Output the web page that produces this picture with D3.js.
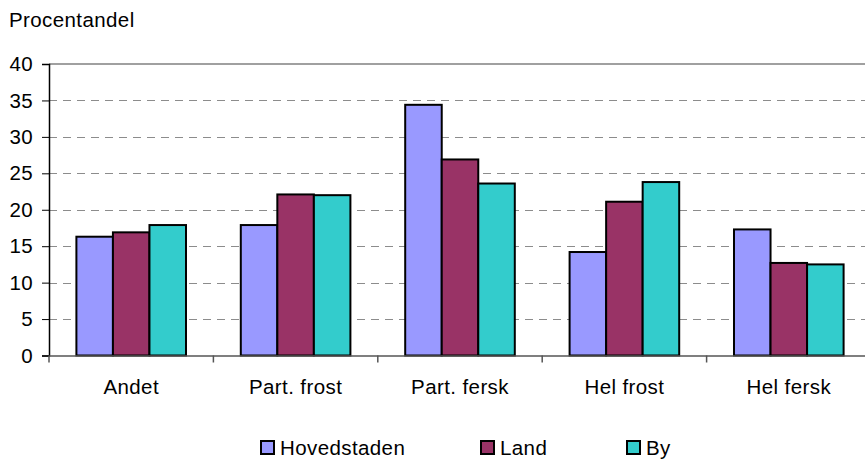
<!DOCTYPE html>
<html>
<head>
<meta charset="utf-8">
<script src="https://cdn.jsdelivr.net/npm/d3@7/dist/d3.min.js"></script>
<style>
  html, body { margin: 0; padding: 0; background: #fff; }
  svg { display: block; font-family: "Liberation Sans", Arial, sans-serif; }
  text { letter-spacing: 0.4px; }
</style>
</head>
<body>
<svg id="chart" width="865" height="459"></svg>
<script>
const categories = ["Andet", "Part. frost", "Part. fersk", "Hel frost", "Hel fersk"];
const seriesNames = ["Hovedstaden", "Land", "By"];
const hovedstaden = [16.3, 17.9, 34.4, 14.2, 17.3];
const land = [16.9, 22.1, 26.9, 21.1, 12.7];
const by = [17.9, 22.0, 23.6, 23.8, 12.5];
const yTicks = [0, 5, 10, 15, 20, 25, 30, 35, 40];
const yLabel = "Procentandel";
const colors = ["#9999FF", "#993366", "#33CCCC"];

(function () {
const seriesValues = [hovedstaden, land, by];
const data = categories.map((c, i) => ({
  category: c,
  values: seriesNames.map((s, j) => ({ series: s, value: seriesValues[j][i] }))
}));

const svg = d3.select("#chart");
const pLeft = 49, pRight = 871, pTop = 64, pBottom = 355.5;
const fontSize = 20.5;

const x0 = d3.scaleBand().domain(categories).range([pLeft, pRight]).padding(0);
const x1 = d3.scaleBand().domain(seriesNames).range([0, x0.bandwidth()]).paddingInner(0).paddingOuter(0.75);
const y = d3.scaleLinear().domain([0, 40]).range([pBottom, pTop]);
const color = d3.scaleOrdinal().domain(seriesNames).range(colors);

// gridlines
svg.append("g").selectAll("line")
  .data(yTicks.filter(t => t > 0 && t < 40))
  .join("line")
  .attr("x1", pLeft).attr("x2", pRight)
  .attr("y1", d => Math.round(y(d)) + 0.5).attr("y2", d => Math.round(y(d)) + 0.5)
  .attr("stroke", "#8c8c8c").attr("stroke-width", 1)
  .attr("stroke-dasharray", "8,6");

// top border
svg.append("line")
  .attr("x1", pLeft).attr("x2", pRight)
  .attr("y1", y(40)).attr("y2", y(40))
  .attr("stroke", "#808080").attr("stroke-width", 1.5);

// bars
const groups = svg.append("g").selectAll("g")
  .data(data).join("g")
  .attr("transform", d => `translate(${x0(d.category)},0)`);
groups.selectAll("rect")
  .data(d => d.values).join("rect")
  .attr("x", d => x1(d.series))
  .attr("y", d => y(d.value))
  .attr("width", x1.bandwidth())
  .attr("height", d => y(0) - y(d.value))
  .attr("fill", d => color(d.series))
  .attr("stroke", "#000").attr("stroke-width", 2);

// y axis
const yAxis = d3.axisLeft(y).tickValues(yTicks).tickSize(7).tickPadding(9).tickFormat(d3.format("d"));
const gy = svg.append("g").attr("transform", `translate(${pLeft},0)`).call(yAxis);
gy.select(".domain").attr("stroke", "#000").attr("stroke-width", 1.5);
gy.selectAll(".tick line").attr("stroke", "#000");
gy.selectAll(".tick text").attr("font-size", fontSize).attr("fill", "#000")
  .attr("font-family", "Liberation Sans, Arial, sans-serif");

// x axis
const xAxis = d3.axisBottom(x0).tickSize(0).tickPadding(24);
const gx = svg.append("g").attr("transform", `translate(0,${pBottom})`).call(xAxis);
gx.select(".domain").attr("stroke", "#555").attr("stroke-width", 1.5);
gx.selectAll(".tick text").attr("font-size", fontSize).attr("fill", "#000")
  .attr("font-family", "Liberation Sans, Arial, sans-serif");
// category separator ticks
const sepPositions = categories.map(c => x0(c));
svg.append("g").selectAll("line")
  .data(sepPositions).join("line")
  .attr("x1", d => d).attr("x2", d => d)
  .attr("y1", pBottom).attr("y2", pBottom + 7)
  .attr("stroke", "#555").attr("stroke-width", 1.5);

// y label
svg.append("text")
  .attr("x", 9).attr("y", 27)
  .attr("font-size", fontSize)
  .text(yLabel);

// legend
const legendX = [261, 481, 627];
const leg = svg.append("g").selectAll("g")
  .data(seriesNames).join("g")
  .attr("transform", (d, i) => `translate(${legendX[i]},441)`);
leg.append("rect")
  .attr("width", 13).attr("height", 13)
  .attr("fill", d => color(d))
  .attr("stroke", "#000").attr("stroke-width", 2);
leg.append("text")
  .attr("x", 19).attr("y", 14)
  .attr("font-size", fontSize)
  .text(d => d);
})();
</script>
</body>
</html>
